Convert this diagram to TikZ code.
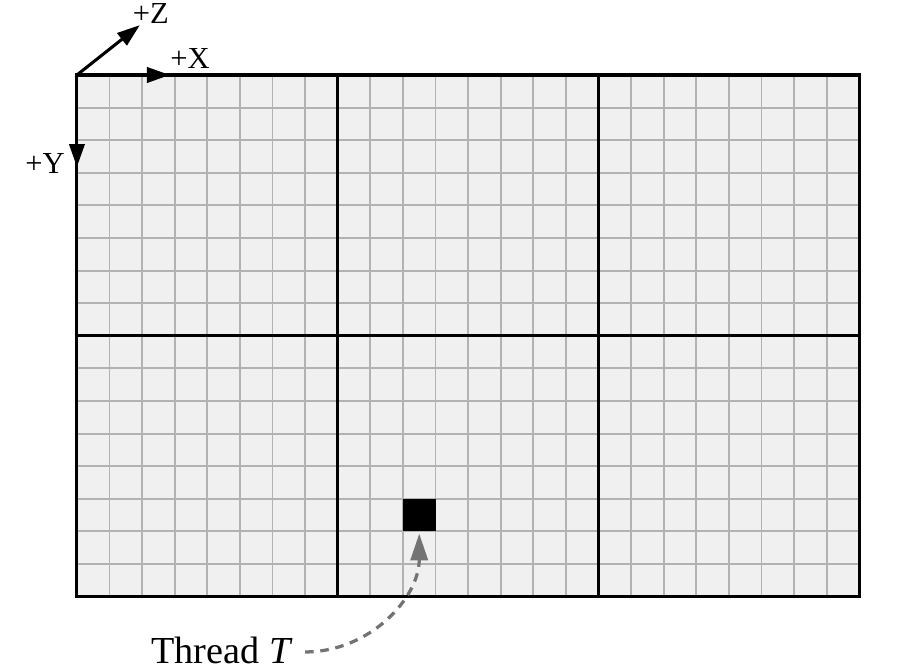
\documentclass[tikz,border=0pt]{standalone}
\usepackage{fontspec}
\setmainfont{Liberation Serif}
\usetikzlibrary{arrows.meta}

\begin{document}
\begin{tikzpicture}[>={Triangle[length=12pt,width=8pt]},x=0.6cm,y=0.6cm,
cellline/.style={draw=black!30,line width=1pt},
blockline/.style={draw=black,line width=1.6pt},
axis/.style={->,line width=1.6pt},
axislabel/.style={font=\fontsize{16}{18}\selectfont}]
\useasboundingbox (-2.36,2.30) rectangle (25.34,-18.31);
% grid of 3 x 2 blocks
\fill[black!6] (0,0) rectangle (24,-16);
\foreach \i in {1,...,23} \draw[cellline] (\i,0) -- (\i,-16);
\foreach \j in {1,...,15} \draw[cellline] (0,-\j) -- (24,-\j);
\foreach \i in {8,16} \draw[blockline] (\i,0) -- (\i,-16);
\draw[blockline] (0,-8) -- (24,-8);
\draw[blockline] (0,0) rectangle (24,-16);
% axes
\coordinate (o) at (0,0);
\coordinate (xtip) at (2.85,0);
\coordinate (ytip) at (0,-2.82);
\coordinate (ztip) at (1.93,1.53);
\draw[axis] (o) -- (xtip);
\draw[axis] (o) -- (ytip);
\draw[axis] (o) -- (ztip);
\node[axislabel] (xl) at (3.47,0.52) {+X};
\node[axislabel] (yl) at (-0.98,-2.70) {+Y};
\node[axislabel] (zl) at (2.27,1.88) {+Z};
% thread
\node[fill=black,inner sep=0pt,minimum size=0.6cm] (t) at (10.5,-13.5) {};
\node[font=\fontsize{20}{24}\selectfont] (thr) at (4.45,-17.64) {Thread \textit{T}};
\draw[-{Triangle[length=14pt,width=9pt]},draw=black!55,line width=1.7pt,dash pattern=on 4.5pt off 3.5pt]
  ([xshift=3pt,yshift=-1pt]thr.east) to[out=0,in=-90] ([yshift=-1pt]t.south);
\end{tikzpicture}
\end{document}
